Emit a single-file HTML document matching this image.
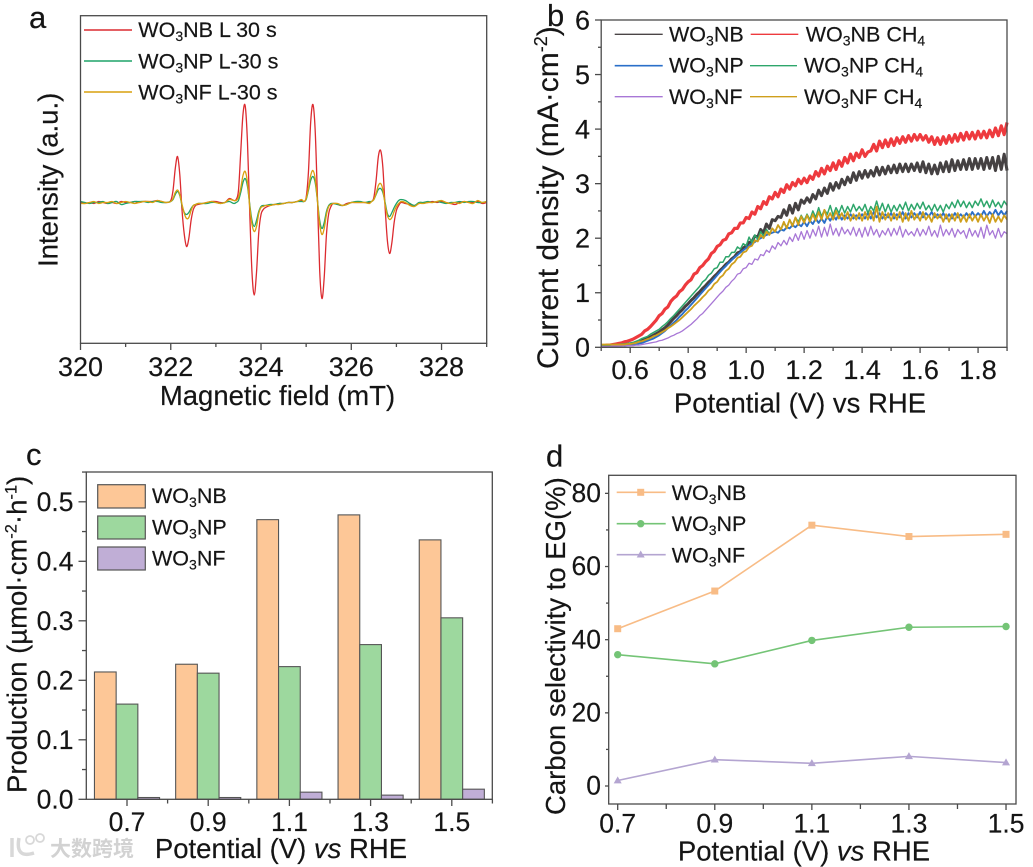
<!DOCTYPE html>
<html lang="en">
<head>
<meta charset="utf-8">
<title>WO3 nanostructure photoelectrochemistry figure</title>
<style>
html,body{margin:0;padding:0;background:#fff;}
svg{display:block;font-family:"Liberation Sans","Noto Sans CJK SC",sans-serif;fill:#151515;}
text{fill:#151515;stroke:#151515;stroke-width:.18;}
.leg{font-size:21.5px;}
.title{font-size:27.5px;}
.panel{font-size:31px;}
.frame{fill:none;stroke:#4a4a4a;stroke-width:1.3;}
</style>
</head>
<body>
<svg id="figure" width="1033" height="867" viewBox="0 0 1033 867" xmlns="http://www.w3.org/2000/svg">
<rect x="0" y="0" width="1033" height="867" fill="#fff"/>

<!-- PANEL A -->
<g id="panel-a">
<text class="panel" x="29" y="28">a</text>
<g id="a-marks"></g>
<rect class="frame" x="80.5" y="15.7" width="406.2" height="327.6"/>
<g id="a-axis"></g>
<text class="title" x="277.5" y="405" text-anchor="middle">Magnetic field (mT)</text>
<text class="title" transform="translate(57.5,267) rotate(-90)">Intensity (a.u.)</text>
<g>
<line x1="84" x2="132" y1="30" y2="30" stroke="#dc2b30" stroke-width="1.4"/>
<text class="leg" x="138.3" y="37">WO<tspan dy="4" font-size="14">3</tspan><tspan dy="-4">NB L 30 s</tspan></text>
<line x1="84" x2="132" y1="61" y2="61" stroke="#1fa368" stroke-width="1.4"/>
<text class="leg" x="138.3" y="68.7">WO<tspan dy="4" font-size="14">3</tspan><tspan dy="-4">NP L-30 s</tspan></text>
<line x1="84" x2="132" y1="92" y2="92" stroke="#d9a10f" stroke-width="1.4"/>
<text class="leg" x="138.3" y="99.7">WO<tspan dy="4" font-size="14">3</tspan><tspan dy="-4">NF L-30 s</tspan></text>
</g>
</g>

<!-- PANEL B -->
<g id="panel-b">
<text class="panel" x="547" y="26">b</text>
<g id="b-marks"></g>
<rect class="frame" x="601.2" y="20" width="405.8" height="327.3"/>
<g id="b-axis"></g>
<text class="title" x="800" y="412.7" text-anchor="middle">Potential (V) vs RHE</text>
<text transform="translate(558,369) rotate(-90)" font-size="30">Current density (mA·cm<tspan dy="-11" font-size="18">-2</tspan><tspan dy="11">)</tspan></text>
<g>
<line x1="614.7" x2="662.7" y1="34.3" y2="34.3" stroke="#4a4546" stroke-width="1.4"/>
<text class="leg" x="669" y="41.3">WO<tspan dy="4" font-size="14">3</tspan><tspan dy="-4">NB</tspan></text>
<line x1="750.7" x2="798.3" y1="34.3" y2="34.3" stroke="#ee3a3e" stroke-width="1.4"/>
<text class="leg" x="805.7" y="41.3">WO<tspan dy="4" font-size="14">3</tspan><tspan dy="-4">NB CH</tspan><tspan dy="4" font-size="14">4</tspan></text>
<line x1="614.7" x2="662.7" y1="65.7" y2="65.7" stroke="#2a6fc9" stroke-width="1.6"/>
<text class="leg" x="669" y="72.7">WO<tspan dy="4" font-size="14">3</tspan><tspan dy="-4">NP</tspan></text>
<line x1="750" x2="797" y1="65.7" y2="65.7" stroke="#2ea66b" stroke-width="1.4"/>
<text class="leg" x="804" y="72.7">WO<tspan dy="4" font-size="14">3</tspan><tspan dy="-4">NP CH</tspan><tspan dy="4" font-size="14">4</tspan></text>
<line x1="614.7" x2="662.7" y1="96.7" y2="96.7" stroke="#a877d6" stroke-width="1.4"/>
<text class="leg" x="669" y="104">WO<tspan dy="4" font-size="14">3</tspan><tspan dy="-4">NF</tspan></text>
<line x1="750" x2="797" y1="96.7" y2="96.7" stroke="#cf9f1c" stroke-width="1.4"/>
<text class="leg" x="804" y="104">WO<tspan dy="4" font-size="14">3</tspan><tspan dy="-4">NF CH</tspan><tspan dy="4" font-size="14">4</tspan></text>
</g>
</g>

<!-- PANEL C -->
<g id="panel-c">
<text class="panel" x="26" y="465">c</text>
<g id="c-marks"></g>
<rect class="frame" x="86.3" y="472" width="406" height="327.3"/>
<g id="c-axis"></g>
<text class="title" x="281" y="858" text-anchor="middle">Potential (V) <tspan font-style="italic">vs</tspan> RHE</text>
<text class="title" transform="translate(26.7,793) rotate(-90)">Production (µmol·cm<tspan dy="-10" font-size="16.5">-2</tspan><tspan dy="10">·h</tspan><tspan dy="-10" font-size="16.5">-1</tspan><tspan dy="10">)</tspan></text>
<g>
<rect x="97.7" y="484.7" width="47.6" height="23.3" fill="#fdc797" stroke="#555" stroke-width="1.2"/>
<text class="leg" x="152" y="503">WO<tspan dy="4" font-size="14">3</tspan><tspan dy="-4">NB</tspan></text>
<rect x="97.7" y="516" width="47.6" height="23" fill="#9dd89e" stroke="#555" stroke-width="1.2"/>
<text class="leg" x="152" y="534.5">WO<tspan dy="4" font-size="14">3</tspan><tspan dy="-4">NP</tspan></text>
<rect x="97.7" y="547" width="47.6" height="23" fill="#c0aed6" stroke="#555" stroke-width="1.2"/>
<text class="leg" x="152" y="565.5">WO<tspan dy="4" font-size="14">3</tspan><tspan dy="-4">NF</tspan></text>
</g>
</g>

<!-- PANEL D -->
<g id="panel-d">
<text class="panel" x="546" y="466.7">d</text>
<rect class="frame" x="608.7" y="475.3" width="407.3" height="328.7"/>
<g id="d-axis"></g>
<g id="d-marks"></g>
<text class="title" x="804" y="860.7" text-anchor="middle">Potential (V) <tspan font-style="italic">vs</tspan> RHE</text>
<text class="title" font-size="27.8" transform="translate(565,815) rotate(-90)">Carbon selectivity to EG(%)</text>
<g>
<line x1="616.7" x2="665.7" y1="492.3" y2="492.3" stroke="#f8bc86" stroke-width="1.6"/>
<rect x="637.2" y="488.8" width="7" height="7" fill="#f8bc86"/>
<text class="leg" x="671.7" y="500">WO<tspan dy="4" font-size="14">3</tspan><tspan dy="-4">NB</tspan></text>
<line x1="616.7" x2="665.7" y1="523.7" y2="523.7" stroke="#74c476" stroke-width="1.6"/>
<circle cx="640.7" cy="523.7" r="3.7" fill="#74c476"/>
<text class="leg" x="671.7" y="531">WO<tspan dy="4" font-size="14">3</tspan><tspan dy="-4">NP</tspan></text>
<line x1="616.7" x2="665.7" y1="554.7" y2="554.7" stroke="#b4a5d1" stroke-width="1.6"/>
<polygon points="640.7,550.5 644.7,557.5 636.7,557.5" fill="#b4a5d1"/>
<text class="leg" x="671.7" y="562.3">WO<tspan dy="4" font-size="14">3</tspan><tspan dy="-4">NF</tspan></text>
</g>
</g>

<!-- WATERMARK -->
<g>
<path d="M12 838 L12 857 M19 838 Q15 859 34 853" fill="none" stroke="#d8d8d8" stroke-width="3.5"/>
<circle cx="30" cy="840" r="4" fill="none" stroke="#d8d8d8" stroke-width="1.8"/>
<circle cx="40" cy="838" r="4" fill="none" stroke="#d8d8d8" stroke-width="1.8"/>
<text x="50" y="856" font-size="21" font-weight="700" style="fill:#d2d2d2;stroke:none;font-family:'Liberation Sans','Noto Sans CJK SC',sans-serif;">大数跨境</text>
</g>
</svg>

<script>
/* ---------- Panel A data: EPR spectra ---------- */
const epFields = [
320.0,320.1,320.2,320.3,320.4,320.5,320.6,320.7,320.8,320.9,321.0,321.1,321.2,321.3,321.4,321.5,321.6,321.7,321.8,321.9,
322.0,322.05,322.1,322.15,322.2,322.25,322.3,322.35,322.4,322.45,322.5,322.55,322.6,
322.7,322.8,322.9,323.0,323.1,323.2,323.3,323.4,
323.45,323.5,323.55,323.6,323.65,323.7,323.75,323.8,323.85,323.9,323.95,324.0,324.05,324.1,
324.2,324.3,324.4,324.5,324.6,324.7,324.8,324.9,
324.95,325.0,325.05,325.1,325.15,325.2,325.25,325.3,325.35,325.4,325.45,325.5,325.55,325.6,
325.7,325.8,325.9,326.0,326.1,326.2,326.3,326.4,
326.45,326.5,326.55,326.6,326.65,326.7,326.75,326.8,326.85,326.9,326.95,327.0,327.05,327.1,
327.2,327.3,327.4,327.5,327.6,327.7,327.8,327.9,328.0,328.1,328.2,328.3,328.4,328.5,328.6,328.7,328.8,328.9,329.0];
const epRed = [
0,-1,0,-1,1,0,-1,0,-1,1,0,0,1,0,1,1,1,2,1,0,
2,12,34,46,28,-8,-32,-44,-36,-18,-7,-3,-2,
-1,0,1,1,0,0,4,2,
3,12,50,88,96.5,60,-10,-70,-92.5,-70,-30,-12,-7,-5,
-3,-2,-1,-1,0,0,1,2,
1,5,30,80,98,72,5,-68,-96,-75,-32,-11,-4,-1,
-2,-3,-1,0,0,0,0,0,
1,5,22,46,52,35,-5,-38,-51,-40,-20,-8,-3,0,
-1,-2,-3,-1,0,0,1,0,1,0,-1,-2,0,1,0,0,1,-1,0];
const epGreen = [
1,0,-1,0,0,1,-1,0,1,-2,-1,0,1,1,1,0,1,1,0,0,
1,3,8,11,7,-3,-10,-12,-10,-6,-3,-2,-1,
-1,-1,0,0,-1,0,1,-1,
0,2,10,20,24,16,-2,-18,-24,-18,-9,-4,-3,-3,
-2,-2,-1,-1,0,0,1,1,
1,3,12,22,26,20,2,-18,-26,-20,-9,-3,-1,-1,
-2,-3,-2,0,1,1,0,1,
1,3,8,13,14,10,0,-11,-14,-10,-5,-1,2,3,
2,-1,-3,0,0,1,0,1,0,-1,0,0,1,0,1,1,0,0,1];
const epGold = [
-1,-1,0,1,-1,0,0,1,-1,0,1,0,-1,0,1,1,0,2,1,0,
1,4,10,12.5,8,-2,-11,-16,-15,-8,-3,-2,-1,
-1,0,1,0,-1,0,3,2,
2,5,14,27,31,20,-4,-22,-29,-24,-11,-5,-4,-3,
-3,-2,-2,-1,0,0,1,3,
1,4,14,27,32,24,2,-22,-32,-26,-12,-4,-2,-1,
-1,-3,-2,0,0,0,0,-1,
1,3,9,17,19,13,-2,-13,-17,-15,-9,-4,-1,1,
0,-3,-4,-1,-1,0,0,1,2,0,-1,0,-1,1,0,-1,2,0,1];
const epTicks = [320,322,324,326,328];
const epMinorTicks = [321,323,325,327,329];

/* ---------- Panel B data: current density, one value per 0.01 V from 0.50 V ---------- */
const jvStart = 0.5;
const jvStep = 0.01;
const jvNB = [
.02,.02,.02,.03,.03,.03,.04,.04,.05,.05,
.06,.07,.08,.10,.12,.14,.16,.19,.22,.25,
.28,.32,.36,.41,.47,.53,.58,.64,.69,.75,
.80,.86,.91,.97,1.02,1.08,1.13,1.19,1.24,1.30,
1.35,1.41,1.46,1.52,1.56,1.62,1.66,1.73,1.75,1.82,
1.86,1.92,1.94,2.04,2.02,2.16,2.10,2.26,2.18,2.34,
2.32,2.40,2.38,2.52,2.42,2.60,2.46,2.64,2.52,2.70,
2.64,2.74,2.66,2.80,2.72,2.88,2.78,2.92,2.82,3.00,
2.88,3.02,2.92,3.08,2.98,3.12,3.02,3.20,3.06,3.22,
3.10,3.24,3.12,3.24,3.14,3.30,3.16,3.30,3.18,3.32,
3.20,3.34,3.20,3.36,3.22,3.36,3.22,3.36,3.24,3.38,
3.22,3.40,3.20,3.36,3.18,3.34,3.18,3.38,3.22,3.40,
3.22,3.44,3.24,3.42,3.26,3.44,3.26,3.46,3.26,3.46,
3.28,3.46,3.26,3.48,3.28,3.48,3.24,3.50,3.26,3.54,
3.24];
const jvNBCH4 = [
.03,.03,.04,.04,.05,.06,.07,.08,.10,.11,
.13,.15,.18,.21,.24,.30,.33,.38,.44,.50,
.58,.62,.70,.74,.84,.90,.94,1.02,1.06,1.14,
1.20,1.24,1.34,1.37,1.46,1.50,1.57,1.62,1.72,1.76,
1.85,1.88,1.96,1.98,2.08,2.10,2.18,2.18,2.28,2.28,
2.38,2.36,2.48,2.44,2.58,2.54,2.67,2.62,2.76,2.72,
2.84,2.76,2.90,2.84,2.98,2.90,3.02,2.96,3.08,3.00,
3.10,3.02,3.14,3.08,3.22,3.14,3.28,3.18,3.32,3.24,
3.38,3.26,3.42,3.32,3.48,3.38,3.54,3.42,3.56,3.48,
3.62,3.50,3.58,3.60,3.72,3.60,3.78,3.66,3.80,3.68,
3.82,3.70,3.84,3.74,3.86,3.76,3.88,3.78,3.90,3.80,
3.90,3.80,3.88,3.76,3.86,3.72,3.84,3.72,3.86,3.74,
3.88,3.76,3.90,3.78,3.92,3.80,3.94,3.82,3.94,3.82,
3.96,3.84,3.96,3.84,3.98,3.86,4.02,3.88,4.06,3.90,
4.12];
const jvNP = [
.03,.03,.03,.03,.03,.03,.03,.03,.03,.04,
.04,.05,.06,.07,.08,.10,.12,.14,.16,.19,
.22,.26,.30,.35,.40,.45,.50,.56,.61,.67,
.72,.78,.84,.90,.96,1.02,1.08,1.14,1.20,1.26,
1.32,1.38,1.44,1.49,1.55,1.60,1.65,1.69,1.74,1.78,
1.82,1.86,1.90,1.93,1.97,2.00,2.03,2.06,2.08,2.10,
2.12,2.10,2.16,2.14,2.20,2.18,2.24,2.20,2.26,2.22,
2.30,2.22,2.32,2.26,2.36,2.28,2.36,2.28,2.40,2.32,
2.42,2.34,2.44,2.34,2.42,2.36,2.44,2.36,2.42,2.36,
2.44,2.36,2.46,2.36,2.48,2.38,2.46,2.36,2.44,2.38,
2.46,2.36,2.44,2.38,2.48,2.36,2.46,2.38,2.46,2.38,
2.48,2.38,2.46,2.40,2.48,2.38,2.44,2.38,2.46,2.36,
2.44,2.36,2.46,2.38,2.44,2.38,2.46,2.38,2.48,2.40,
2.46,2.40,2.50,2.40,2.48,2.42,2.52,2.42,2.50,2.42,
2.50];
const jvNF = [
.02,.02,.02,.02,.02,.02,.02,.02,.03,.03,
.03,.03,.04,.04,.05,.06,.07,.08,.09,.10,
.12,.13,.15,.17,.20,.22,.25,.27,.30,.34,
.38,.42,.47,.52,.58,.62,.68,.74,.80,.86,
.92,.98,1.03,1.10,1.14,1.21,1.26,1.34,1.36,1.44,
1.46,1.54,1.52,1.62,1.60,1.70,1.68,1.78,1.74,1.86,
1.80,1.92,1.86,1.96,1.88,2.02,1.94,2.08,1.96,2.12,
1.98,2.14,2.00,2.16,2.04,2.22,2.02,2.20,2.04,2.26,
2.06,2.18,2.04,2.20,2.08,2.16,2.06,2.20,2.04,2.18,
2.02,2.20,2.04,2.22,2.06,2.16,2.02,2.14,2.06,2.18,
2.04,2.18,2.06,2.22,2.02,2.16,2.06,2.12,2.04,2.18,
2.04,2.16,2.06,2.22,2.04,2.14,2.02,2.24,2.04,2.16,
2.06,2.18,2.02,2.16,2.08,2.14,2.00,2.18,2.04,2.14,
2.02,2.20,2.00,2.24,2.06,2.14,2.00,2.18,2.02,2.12,
2.08];
const jvNPCH4 = [
.04,.04,.04,.04,.05,.05,.05,.06,.06,.07,
.08,.09,.11,.13,.16,.18,.20,.24,.27,.30,
.33,.38,.42,.47,.53,.58,.64,.70,.76,.82,
.88,.94,1.00,1.06,1.12,1.20,1.24,1.32,1.36,1.44,
1.46,1.56,1.56,1.66,1.66,1.74,1.74,1.84,1.80,1.90,
1.86,2.02,1.92,2.06,1.98,2.12,2.04,2.16,2.08,2.18,
2.12,2.24,2.16,2.28,2.20,2.34,2.24,2.38,2.30,2.42,
2.32,2.44,2.34,2.50,2.38,2.56,2.40,2.52,2.44,2.60,
2.42,2.56,2.46,2.60,2.46,2.58,2.48,2.62,2.50,2.58,
2.50,2.62,2.46,2.58,2.50,2.68,2.50,2.64,2.48,2.62,
2.48,2.60,2.50,2.62,2.52,2.66,2.50,2.62,2.52,2.64,
2.54,2.66,2.52,2.60,2.50,2.62,2.50,2.60,2.48,2.62,
2.54,2.66,2.56,2.70,2.58,2.68,2.56,2.66,2.56,2.68,
2.60,2.72,2.58,2.68,2.56,2.70,2.58,2.66,2.56,2.68,
2.60];
const jvNFCH4 = [
.05,.05,.05,.05,.05,.05,.05,.05,.05,.06,
.06,.07,.08,.10,.11,.13,.15,.17,.20,.22,
.25,.28,.31,.35,.38,.42,.46,.50,.55,.60,
.65,.70,.76,.81,.86,.92,.97,1.04,1.08,1.16,
1.20,1.28,1.32,1.40,1.44,1.52,1.56,1.64,1.66,1.74,
1.76,1.84,1.86,1.96,1.94,2.06,2.00,2.12,2.06,2.18,
2.12,2.24,2.16,2.30,2.18,2.34,2.22,2.38,2.24,2.40,
2.28,2.42,2.30,2.44,2.32,2.48,2.34,2.52,2.36,2.46,
2.34,2.50,2.36,2.46,2.34,2.48,2.32,2.44,2.34,2.46,
2.32,2.48,2.34,2.50,2.32,2.58,2.30,2.48,2.34,2.46,
2.32,2.46,2.34,2.48,2.30,2.46,2.32,2.50,2.34,2.44,
2.32,2.48,2.34,2.42,2.30,2.46,2.36,2.44,2.30,2.44,
2.30,2.44,2.32,2.46,2.30,2.42,2.30,2.44,2.32,2.42,
2.30,2.44,2.32,2.42,2.28,2.44,2.30,2.40,2.30,2.42,
2.34];
const jvXTicks = [0.6,0.8,1.0,1.2,1.4,1.6,1.8];
const jvXMinor = [0.5,0.7,0.9,1.1,1.3,1.5,1.7,1.9];
const jvYTicks = [0,1,2,3,4,5,6];
const jvYMinor = [0.5,1.5,2.5,3.5,4.5,5.5];

/* ---------- Panel C data: production bars ---------- */
const prodCategories = ["0.7","0.9","1.1","1.3","1.5"];
const prodNB = [0.214,0.227,0.470,0.478,0.436];
const prodNP = [0.160,0.212,0.223,0.260,0.305];
const prodNF = [0.003,0.003,0.012,0.007,0.017];
const prodYTicks = ["0.0","0.1","0.2","0.3","0.4","0.5"];
const prodYMinor = [0.05,0.15,0.25,0.35,0.45,0.55];

/* ---------- Panel D data: carbon selectivity ---------- */
const selCategories = ["0.7","0.9","1.1","1.3","1.5"];
const selPotentials = [0.7,0.9,1.1,1.3,1.5];
const selNB = [43.0,53.3,71.3,68.2,68.8];
const selNP = [35.9,33.4,39.8,43.4,43.6];
const selNF = [1.5,7.2,6.2,8.1,6.4];
const selYTicks = [0,20,40,60,80];
const selYMinor = [10,30,50,70];
const selXMinor = [0.8,1.0,1.2,1.4];

/* ---------- Helpers ---------- */
const NS = "http://www.w3.org/2000/svg";
const TICK = "#4a4a4a";
function make(tag, attrs, parent) {
  const n = document.createElementNS(NS, tag);
  for (const k in attrs) n.setAttribute(k, attrs[k]);
  parent.appendChild(n);
  return n;
}
function tickLine(parent, x1, y1, x2, y2, name) {
  const t = make("line", {x1: x1, y1: y1, x2: x2, y2: y2, stroke: TICK, "stroke-width": 1.3}, parent);
  
  
  return t;
}
function tickText(parent, x, y, anchor, size, str, name) {
  const t = make("text", {x: x, y: y, "text-anchor": anchor, "font-size": size}, parent);
  t.textContent = str;
  
  
  return t;
}
function polyline(parent, pts, color, width, name) {
  const p = make("polyline", {points: pts.map(q => q[0].toFixed(2) + "," + q[1].toFixed(2)).join(" "), fill: "none", stroke: color, "stroke-width": width, "stroke-linejoin": "round"}, parent);
  
  
  return p;
}
function smoothCurve(parent, pts, color, width, name) {
  let d = "M" + pts[0][0].toFixed(2) + " " + pts[0][1].toFixed(2);
  for (let i = 0; i < pts.length - 1; i++) {
    const p0 = pts[Math.max(i - 1, 0)], p1 = pts[i], p2 = pts[i + 1], p3 = pts[Math.min(i + 2, pts.length - 1)];
    const h = p2[0] - p1[0];
    const m1 = (p2[1] - p0[1]) / (p2[0] - p0[0]);
    const m2 = (p3[1] - p1[1]) / (p3[0] - p1[0]);
    d += "C" + (p1[0] + h / 3).toFixed(2) + " " + (p1[1] + m1 * h / 3).toFixed(2) + " " + (p2[0] - h / 3).toFixed(2) + " " + (p2[1] - m2 * h / 3).toFixed(2) + " " + p2[0].toFixed(2) + " " + p2[1].toFixed(2);
  }
  const c = make("path", {d: d, fill: "none", stroke: color, "stroke-width": width}, parent);
  
  
  return c;
}

/* ---------- Panel A ---------- */
const axA = document.getElementById("a-axis");
const marksA = document.getElementById("a-marks");
const xA = v => 80.5 + (v - 320) * 45.13;
const yA = v => 202.5 - v;
epTicks.forEach(v => {
  tickLine(axA, xA(v), 343.3, xA(v), 350, 'x-tick-major');
  tickText(axA, xA(v), 376, "middle", 27, String(v), 'x-tick-label');
});
epMinorTicks.forEach(v => tickLine(axA, xA(v), 343.3, xA(v), 347, 'x-tick-minor'));
smoothCurve(marksA, epFields.map((f, i) => [xA(f), yA(epRed[i])]), "#dc2b30", 1.3, 'series-wo3nb-l-30s');
smoothCurve(marksA, epFields.map((f, i) => [xA(f), yA(epGreen[i])]), "#1fa368", 1.3, 'series-wo3np-l-30s');
smoothCurve(marksA, epFields.map((f, i) => [xA(f), yA(epGold[i])]), "#d9a10f", 1.3, 'series-wo3nf-l-30s');

/* ---------- Panel B ---------- */
const axB = document.getElementById("b-axis");
const marksB = document.getElementById("b-marks");
const xB = v => 601.2 + (v - 0.5) * 289.9;
const yB = v => 347.3 - v * 54.55;
const ptsB = arr => arr.map((v, i) => [xB(jvStart + i * jvStep), yB(v)]);
jvXTicks.forEach(v => {
  tickLine(axB, xB(v), 347.3, xB(v), 353, 'x-tick-major');
  tickText(axB, xB(v), 379, "middle", 27, v.toFixed(1), 'x-tick-label');
});
jvXMinor.forEach(v => tickLine(axB, xB(v), 347.3, xB(v), 351, 'x-tick-minor'));
jvYTicks.forEach(v => {
  tickLine(axB, 601.2, yB(v), 595, yB(v), 'y-tick-major');
  tickText(axB, 590, yB(v) + 9.3, "end", 27, String(v), 'y-tick-label');
});
jvYMinor.forEach(v => tickLine(axB, 601.2, yB(v), 598, yB(v), 'y-tick-minor'));
polyline(marksB, ptsB(jvNB), "#454142", 3, 'series-wo3nb');
polyline(marksB, ptsB(jvNBCH4), "#ee3a3e", 3.2, 'series-wo3nb-ch4');
polyline(marksB, ptsB(jvNP), "#2a6fc9", 1.9, 'series-wo3np');
polyline(marksB, ptsB(jvNF), "#a877d6", 1.3, 'series-wo3nf');
polyline(marksB, ptsB(jvNPCH4), "#2ea66b", 1.5, 'series-wo3np-ch4');
polyline(marksB, ptsB(jvNFCH4), "#cf9f1c", 1.8, 'series-wo3nf-ch4');

/* ---------- Panel C ---------- */
const axC = document.getElementById("c-axis");
const marksC = document.getElementById("c-marks");
const catX = i => 127 + i * 81.2;
const yC = v => 799.3 - v * 595;
const BAR_W = 21.7;
prodCategories.forEach((c, i) => {
  tickLine(axC, catX(i), 799.3, catX(i), 806, 'x-tick-major');
  tickText(axC, catX(i), 831, "middle", 26.5, c, 'x-tick-label');
  const b1 = make("rect", {x: catX(i) - 1.5 * BAR_W, y: yC(prodNB[i]), width: BAR_W, height: 799.3 - yC(prodNB[i]), fill: "#fdc797", stroke: "#555", "stroke-width": 1.1}, marksC);
  
  
  const b2 = make("rect", {x: catX(i) - 0.5 * BAR_W, y: yC(prodNP[i]), width: BAR_W, height: 799.3 - yC(prodNP[i]), fill: "#9dd89e", stroke: "#555", "stroke-width": 1.1}, marksC);
  
  
  const b3 = make("rect", {x: catX(i) + 0.5 * BAR_W, y: yC(prodNF[i]), width: BAR_W, height: 799.3 - yC(prodNF[i]), fill: "#c0aed6", stroke: "#555", "stroke-width": 1.1}, marksC);
  
  
  tickLine(axC, catX(i) + 40.6, 799.3, catX(i) + 40.6, 803.5, 'x-tick-minor');
});
prodYTicks.forEach(s => {
  const v = parseFloat(s);
  tickLine(axC, 86.3, yC(v), 78.5, yC(v), 'y-tick-major');
  tickText(axC, 73.5, yC(v) + 9, "end", 26.5, s, 'y-tick-label');
});
prodYMinor.forEach(v => tickLine(axC, 86.3, yC(v), 82, yC(v), 'y-tick-minor'));

/* ---------- Panel D ---------- */
const axD = document.getElementById("d-axis");
const marksD = document.getElementById("d-marks");
const xD = v => 617.7 + (v - 0.7) * 485.4;
const yD = v => 786 - v * 3.658;
selPotentials.forEach((v, i) => {
  tickLine(axD, xD(v), 804, xD(v), 810, 'x-tick-major');
  tickText(axD, xD(v), 832.7, "middle", 26.5, selCategories[i], 'x-tick-label');
});
selXMinor.forEach(v => tickLine(axD, xD(v), 804, xD(v), 809, 'x-tick-minor'));
selYTicks.forEach(v => {
  tickLine(axD, 608.7, yD(v), 605, yD(v), 'y-tick-major');
  tickText(axD, 601, yD(v) + 8.7, "end", 26.5, String(v), 'y-tick-label');
});
selYMinor.forEach(v => tickLine(axD, 608.7, yD(v), 606, yD(v), 'y-tick-minor'));
polyline(marksD, selPotentials.map((p, i) => [xD(p), yD(selNB[i])]), "#f8bc86", 1.6, 'series-wo3nb');
polyline(marksD, selPotentials.map((p, i) => [xD(p), yD(selNP[i])]), "#74c476", 1.6, 'series-wo3np');
polyline(marksD, selPotentials.map((p, i) => [xD(p), yD(selNF[i])]), "#b4a5d1", 1.6, 'series-wo3nf');
selPotentials.forEach((p, i) => {
  const m1 = make("rect", {x: xD(p) - 3.5, y: yD(selNB[i]) - 3.5, width: 7, height: 7, fill: "#f8bc86"}, marksD);
  
  
  const m2 = make("circle", {cx: xD(p), cy: yD(selNP[i]), r: 3.7, fill: "#74c476"}, marksD);
  
  
  const tx = xD(p), ty = yD(selNF[i]);
  const m3 = make("polygon", {points: tx + "," + (ty - 4.2) + " " + (tx + 4) + "," + (ty + 2.8) + " " + (tx - 4) + "," + (ty + 2.8), fill: "#b4a5d1"}, marksD);
  
  
});
</script>
</body>
</html>
